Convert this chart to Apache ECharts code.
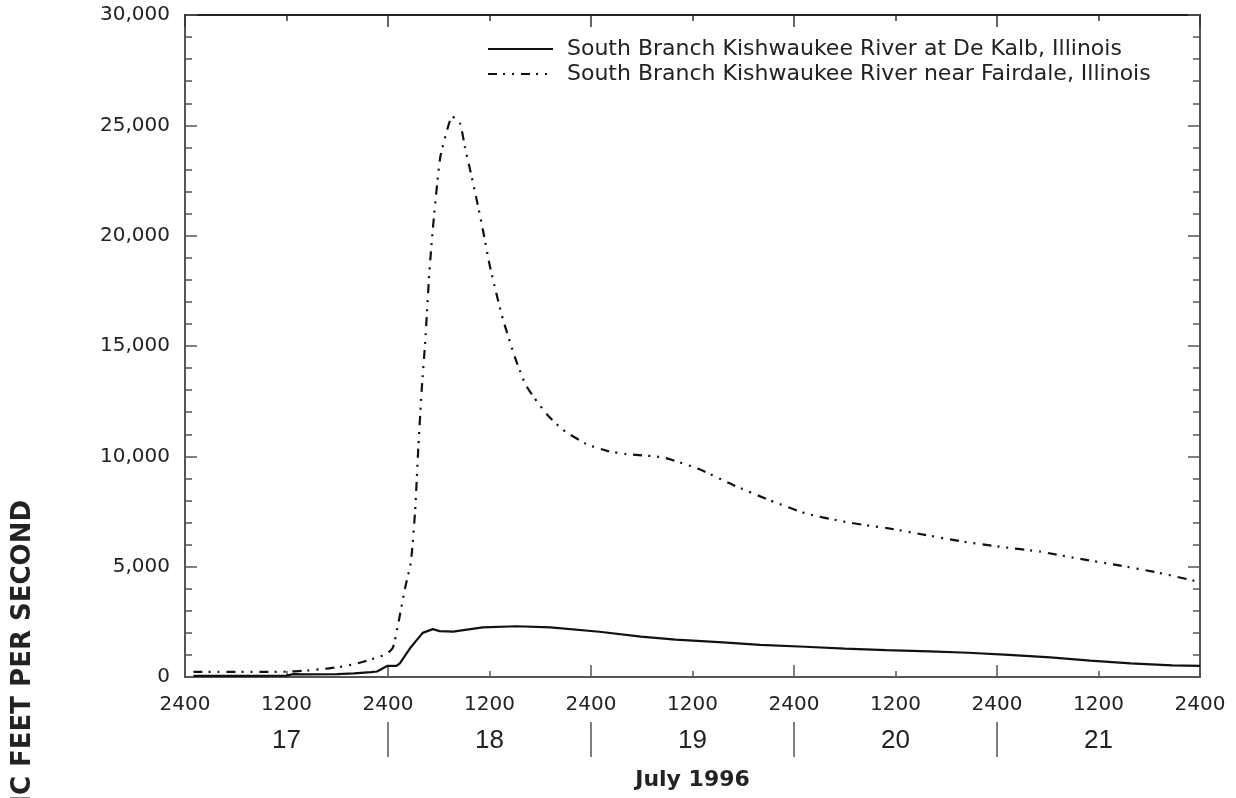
<!DOCTYPE html>
<html>
<head>
<meta charset="utf-8">
<script src="https://cdn.jsdelivr.net/npm/echarts@6/dist/echarts.min.js"></script>
<style>
  html, body { margin: 0; padding: 0; background: #fff; }
  #main { width: 1236px; height: 798px; }
</style>
</head>
<body>
<div id="main"></div>
<script>
var chart = echarts.init(document.getElementById('main'));

// hours after 2400 July 16
var hoursKalb = [1, 6, 12, 12.8, 14, 18, 20, 22, 22.7, 23.4, 23.9, 25, 25.4, 26.6, 28.1, 29.3, 30.1, 31.7, 35.2, 39.2, 43.2, 49, 53.9, 58, 63.6, 68, 73.3, 78, 82.9, 88, 92.6, 97.4, 102.3, 107, 111.8, 116.7, 120];
var flowKalb = [50, 50, 60, 130, 120, 130, 160, 220, 250, 400, 500, 500, 620, 1300, 2000, 2170, 2080, 2060, 2250, 2300, 2250, 2050, 1830, 1690, 1570, 1460, 1370, 1290, 1220, 1160, 1100, 1000, 890, 740, 620, 530, 500];

var hoursFair = [1, 4, 8, 12, 14, 16, 18, 20, 21, 22, 23, 24, 24.6, 25.2, 26, 26.7, 27.2, 27.6, 28, 28.4, 28.9, 29.3, 29.8, 30.2, 31, 31.6, 32.5, 33.1, 33.7, 34.5, 35.2, 36, 36.8, 37.6, 39, 40.2, 41.2, 42.8, 44.7, 47.5, 49.9, 52.2, 56.5, 60.9, 64.8, 69.2, 73.5, 77.8, 81, 83, 86.9, 91.6, 96.4, 101.1, 105.4, 110.1, 114.9, 120];
var flowFair = [230, 230, 230, 240, 280, 350, 440, 580, 680, 800, 920, 1100, 1350, 2400, 4000, 5200, 7500, 10500, 13100, 15200, 18400, 20300, 22300, 23600, 24800, 25400, 25100, 24000, 23000, 21600, 20300, 18700, 17400, 16200, 14500, 13300, 12700, 11900, 11200, 10550, 10250, 10100, 9950, 9400, 8700, 8000, 7400, 7050, 6850, 6750, 6480, 6160, 5900, 5680, 5380, 5080, 4740, 4300];

var seriesNames = ['South Branch Kishwaukee River at De Kalb, Illinois', 'South Branch Kishwaukee River near Fairdale, Illinois'];
var days = ['17', '18', '19', '20', '21'];
var dayCenters = [12, 36, 60, 84, 108];
var dayBounds = [24, 48, 72, 96];
var dayEdges = [0, 24, 48, 72, 96, 120];

function pairs(xs, ys) {
	return xs.map(function(x, i) { return [x, ys[i]]; });
}

var font = 'Liberation Sans';
var wide = 'DejaVu Sans';
var axisColor = '#555';

option = {
	backgroundColor: '#fff',
	animation: false,
	textStyle: { fontFamily: font, color: '#222' },
	grid: { left: 185, right: 36, top: 15, bottom: 121 },
	legend: {
		left: 482,
		top: 33,
		orient: 'vertical',
		itemWidth: 65,
		itemHeight: 14,
		itemGap: 3,
		data: seriesNames,
		itemStyle: { opacity: 0, color: 'rgba(0,0,0,0)', borderWidth: 0 },
		textStyle: { fontFamily: wide, fontSize: 22, color: '#222', padding: [0, 0, 0, 9] }
	},
	xAxis: [{
		type: 'value', min: 0, max: 120, interval: 12, position: 'bottom',
		axisLine: { onZero: false, lineStyle: { color: axisColor, width: 2 } },
		axisTick: { inside: true, length: 6, lineStyle: { color: axisColor, width: 1.5 } },
		splitLine: { show: false },
		axisLabel: {
			margin: 18, fontSize: 20, color: '#222', fontFamily: wide,
			formatter: function(v) { return v % 24 === 0 ? '2400' : '1200'; }
		}
	}, {
		type: 'value', min: 0, max: 120, position: 'bottom', offset: 45,
		name: 'July 1996', nameLocation: 'middle', nameGap: 47,
		nameTextStyle: { fontSize: 22, fontWeight: 'bold', color: '#222', fontFamily: wide },
		axisLine: { show: false, onZero: false },
		axisTick: { inside: false, length: 35, customValues: dayBounds, lineStyle: { color: axisColor, width: 1.5 } },
		splitLine: { show: false },
		axisLabel: {
			margin: 6, fontSize: 26, color: '#222', fontFamily: font,
			customValues: dayCenters,
			formatter: function(v) { return days[dayCenters.indexOf(v)]; }
		}
	}, {
		type: 'value', min: 0, max: 120, position: 'bottom',
		axisLine: { show: false, onZero: false },
		axisTick: { inside: true, length: 12, customValues: dayEdges, lineStyle: { color: axisColor, width: 1.5 } },
		splitLine: { show: false },
		axisLabel: { show: false }
	}, {
		type: 'value', min: 0, max: 120, interval: 12, position: 'top',
		axisLine: { onZero: false, lineStyle: { color: '#222', width: 2 } },
		axisTick: { inside: true, length: 6, lineStyle: { color: '#333', width: 1.5 } },
		splitLine: { show: false },
		axisLabel: { show: false }
	}, {
		type: 'value', min: 0, max: 120, position: 'top',
		axisLine: { show: false, onZero: false },
		axisTick: { inside: true, length: 12, customValues: dayEdges, lineStyle: { color: '#333', width: 1.5 } },
		splitLine: { show: false },
		axisLabel: { show: false }
	}],
	yAxis: [{
		type: 'value', min: 0, max: 30000, interval: 5000, position: 'left',
		axisLine: { show: true, onZero: false, lineStyle: { color: axisColor, width: 2 } },
		axisTick: { show: true, inside: true, length: 12, lineStyle: { color: axisColor, width: 1.5 } },
		minorTick: { show: true, splitNumber: 5, length: 7, lineStyle: { color: axisColor, width: 1.5 } },
		splitLine: { show: false },
		axisLabel: {
			margin: 15, fontSize: 20, color: '#222', fontFamily: wide,
			formatter: function(v) { return v.toLocaleString('en-US'); }
		}
	}, {
		type: 'value', min: 0, max: 30000, interval: 5000, position: 'right',
		axisLine: { show: true, onZero: false, lineStyle: { color: axisColor, width: 2 } },
		axisTick: { show: true, inside: true, length: 12, lineStyle: { color: axisColor, width: 1.5 } },
		minorTick: { show: true, splitNumber: 5, length: 7, lineStyle: { color: axisColor, width: 1.5 } },
		splitLine: { show: false },
		axisLabel: { show: false }
	}],
	graphic: [{
		type: 'text',
		left: 10,
		top: 500,
		rotation: Math.PI / 2,
		style: {
			text: 'DISCHARGE, IN CUBIC FEET PER SECOND',
			fontFamily: wide,
			fontSize: 26,
			fontWeight: 'bold',
			fill: '#222'
		}
	}],
	series: [{
		name: seriesNames[0],
		type: 'line',
		xAxisIndex: 0,
		yAxisIndex: 0,
		symbol: 'none',
		lineStyle: { color: '#111', width: 2.2 },
		itemStyle: { color: '#111' },
		data: pairs(hoursKalb, flowKalb)
	}, {
		name: seriesNames[1],
		type: 'line',
		xAxisIndex: 0,
		yAxisIndex: 0,
		symbol: 'none',
		smooth: 0.2,
		lineStyle: { color: '#111', width: 2.2, type: [9, 6, 2, 7, 2, 7] },
		itemStyle: { color: '#111' },
		data: pairs(hoursFair, flowFair)
	}]
};

chart.setOption(option);
window.onresize = chart.resize;
</script>
</body>
</html>
